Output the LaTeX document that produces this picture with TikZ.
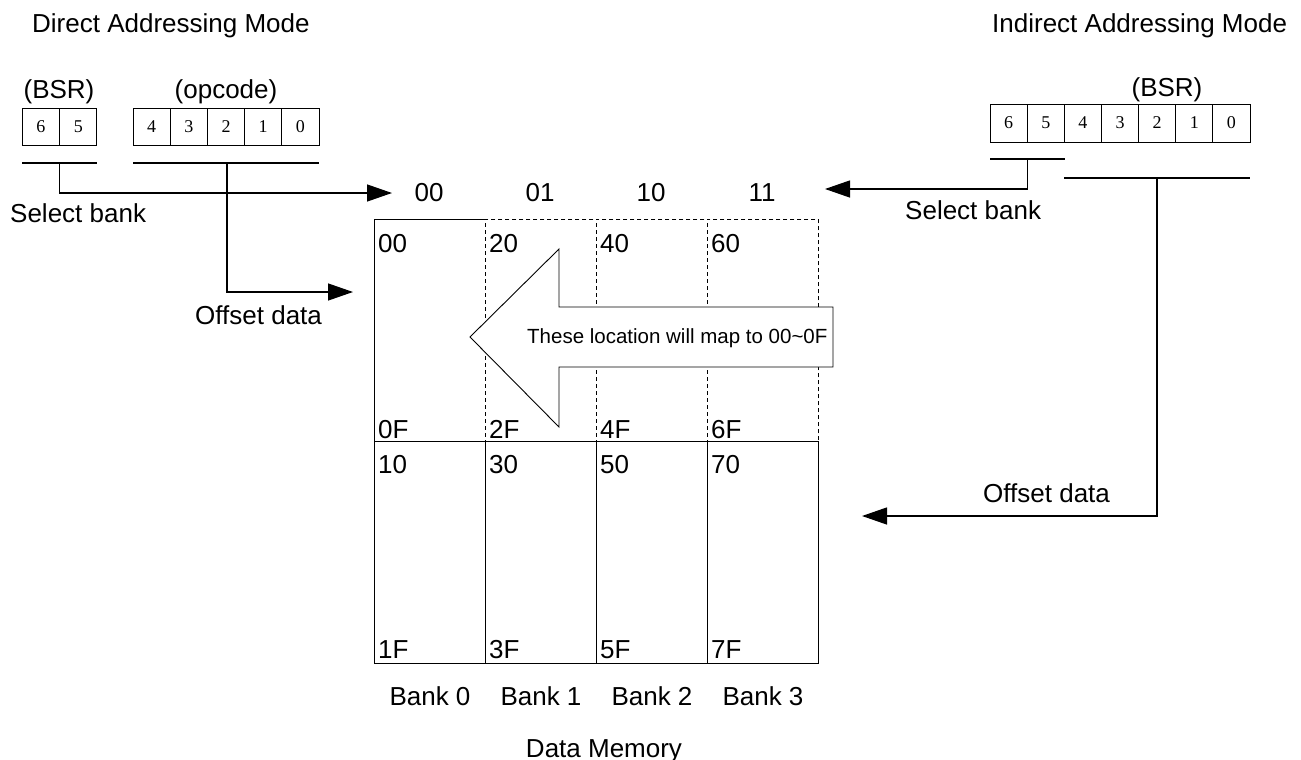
\documentclass[tikz,border=0pt]{standalone}
\usepackage{fontspec}
\setmainfont{Liberation Sans}
\newfontfamily\bitfont{Liberation Serif}
\usetikzlibrary{arrows.meta}
\begin{document}
\begin{tikzpicture}[x=1pt,y=-1pt,
  lbl/.style={inner sep=0pt, font=\fontsize{26}{30}\selectfont},
  small/.style={inner sep=0pt, font=\fontsize{20.5}{24}\selectfont},
  bit/.style={draw, line width=0.9pt, minimum width=37.2pt, minimum height=37pt, inner sep=0pt, font=\bitfont\fontsize{18}{20}\selectfont},
  conn/.style={line width=1.3pt, -{Triangle[length=25pt,width=17pt]}},
  bar/.style={line width=1.3pt},
  cellsolid/.style={draw, fill=white, line width=0.9pt, minimum width=111pt, minimum height=222pt, inner sep=0pt, anchor=north west},
  celldash/.style={cellsolid, dash pattern=on 4pt off 3pt},
]
\useasboundingbox (0,0) rectangle (1301,760);

% titles
\node[lbl, anchor=base west] (tdir) at (32,33) {Direct Addressing Mode};
\node[lbl, anchor=base west] (tind) at (992,33) {Indirect Addressing Mode};

% left registers
\node[lbl, anchor=base] (lbsr) at (59,98) {(BSR)};
\node[lbl, anchor=base] (lopc) at (226,98) {(opcode)};
\foreach \d [count=\i from 0] in {6,5}
  \node[bit] (lb\i) at (40.75+37.5*\i,126.5) {\d};
\foreach \d [count=\i from 0] in {4,3,2,1,0}
  \node[bit] (lo\i) at (151.6+37.2*\i,126.5) {\d};

% right register
\node[lbl, anchor=base] (rbsr) at (1167,96) {(BSR)};
\foreach \d [count=\i from 0] in {6,5,4,3,2,1,0}
  \node[bit, minimum height=38pt] (rb\i) at (1008.6+37.14*\i,123) {\d};

% bracket bars
\draw[bar] (22,163) -- coordinate[pos=0.5] (lsel) (97,163);
\draw[bar] (133,163) -- coordinate[pos=0.505] (lop) (319,163);
\draw[bar] (990,159) -- coordinate[pos=0.5] (rsel) (1065,159);
\draw[bar] (1064,178) -- coordinate[pos=0.5] (roff) (1250,178);

% connector free ends
\coordinate (selL) at (392,193);
\coordinate (offL) at (353,292);
\coordinate (selR) at (825,189);
\coordinate (offR) at (862,516);

\draw[conn] (lsel) |- (selL);
\draw[conn] (lop) |- (offL);
\draw[conn] (rsel) |- (selR);
\draw[conn] (roff) |- (offR);

\node[lbl, anchor=base west] (lselt) at (10,222) {Select bank};
\node[lbl, anchor=base west] (loft) at (195,324) {Offset data};
\node[lbl, anchor=base west] (rselt) at (905,219) {Select bank};
\node[lbl, anchor=base west] (roft) at (983,502) {Offset data};

% bank select values
\foreach \t [count=\i from 0] in {00,01,10,11}
  \node[lbl, anchor=base] (h\i) at (429+111*\i,201) {\t};

% memory grid
\node[cellsolid] (t0) at (374,219) {};
\foreach \i in {1,2,3}
  \node[celldash] (t\i) at (374+111*\i,219) {};
\foreach \i in {0,1,2,3}
  \node[cellsolid] (u\i) at (374+111*\i,441) {};

% cell labels
\foreach \a/\b/\c/\d [count=\i from 0] in {00/0F/10/1F,20/2F/30/3F,40/4F/50/5F,60/6F/70/7F}{
  \node[lbl, anchor=base west] at (378+111*\i,252) {\a};
  \node[lbl, anchor=base west] at (378+111*\i,438) {\b};
  \node[lbl, anchor=base west] at (378+111*\i,473) {\c};
  \node[lbl, anchor=base west] at (378+111*\i,658) {\d};
}

% big arrow
\draw[fill=white, line width=0.9pt] (470,337) -- (559,249) -- (559,307) -- (833,307) -- (833,367) -- (559,367) -- (559,427) -- cycle;
\node[small, anchor=base west] (maptxt) at (527,343) {These location will map to 00\char"7E 0F};

% bank labels
\foreach \i in {0,1,2,3}
  \node[lbl, anchor=base] (bk\i) at (430+111*\i,705) {Bank \i};
\node[lbl, anchor=base] (dm) at (604,757) {Data Memory};
\end{tikzpicture}
\end{document}
